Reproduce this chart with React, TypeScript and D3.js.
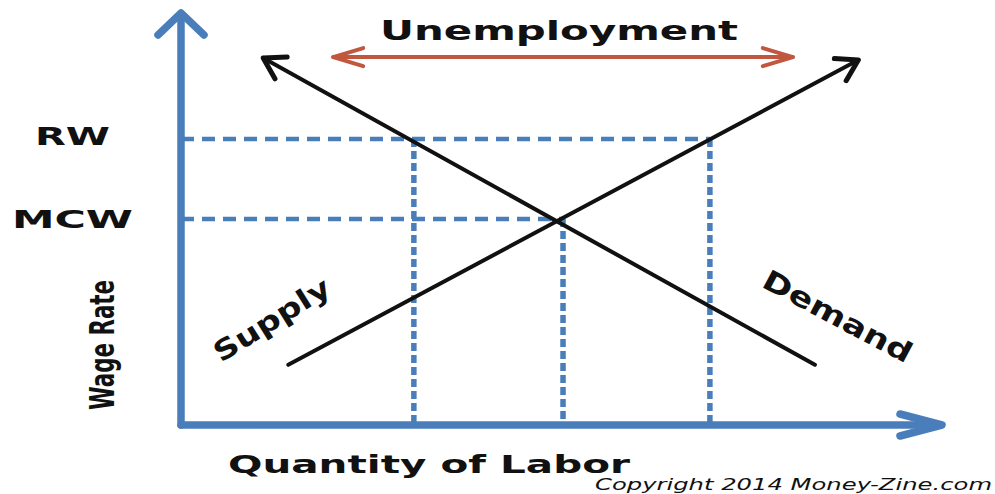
import React from "react";
import * as d3 from "d3";

// ---- Data (abstract units 0-100 on both axes) ----
const wageLabels = ["RW", "MCW"];
const wageValues = [69.4, 50.0];
const quantityValues = [30.6, 50.2, 69.5]; // Q demanded at RW, equilibrium, Q supplied at RW
const demandX = [10.8, 83.3];
const demandY = [89.1, 14.6];
const supplyX = [14.1, 89.0];
const supplyY = [14.6, 88.6];
const unemploymentX = [20.0, 80.4];
const unemploymentY = 89.3;
const axisLabels = { x: "Quantity of Labor", y: "Wage Rate" };
const curveLabels = ["Supply", "Demand"];
const titleText = "Unemployment";
const copyrightText = "Copyright 2014 Money-Zine.com";

const W = 995;
const H = 494;
const BLUE = "#4a7ebb";
const RED = "#c0573e";
const INK = "#111";
const FONT = "'DejaVu Sans', Verdana, sans-serif";

const x = d3.scaleLinear().domain([0, 100]).range([181, 942]);
const y = d3.scaleLinear().domain([0, 100]).range([425, 13]);

function chevron(tx: number, ty: number, fx: number, fy: number, len: number, half: number) {
  // arrow head at (tx,ty), coming from (fx,fy)
  const a = Math.atan2(ty - fy, tx - fx);
  const p1 = [tx - len * Math.cos(a - half), ty - len * Math.sin(a - half)];
  const p2 = [tx - len * Math.cos(a + half), ty - len * Math.sin(a + half)];
  return `M${p1[0]},${p1[1]}L${tx},${ty}L${p2[0]},${p2[1]}`;
}

export default function App() {
  const line = d3.line<[number, number]>();
  const [rw, mcw] = wageValues;
  const [q1, qe, q2] = quantityValues;

  const dStart: [number, number] = [x(demandX[0]), y(demandY[0])];
  const dEnd: [number, number] = [x(demandX[1]), y(demandY[1])];
  const sStart: [number, number] = [x(supplyX[0]), y(supplyY[0])];
  const sEnd: [number, number] = [x(supplyX[1]), y(supplyY[1])];
  const uL: [number, number] = [x(unemploymentX[0]), y(unemploymentY)];
  const uR: [number, number] = [x(unemploymentX[1]), y(unemploymentY)];

  const dashH = "13,8";
  const dashV = "8,4";

  return (
    <svg
      width={W}
      height={H}
      style={{ position: "absolute", left: 0, top: 0, background: "#fff" }}
    >
      {/* dashed guides */}
      <g stroke={BLUE} fill="none">
        <path d={line([[x(0), y(rw)], [x(q2), y(rw)]])!} strokeDasharray={dashH} strokeWidth={4.5} />
        <path d={line([[x(0), y(mcw)], [x(qe), y(mcw)]])!} strokeDasharray={dashH} strokeWidth={4.5} />
        <path d={line([[x(q1), y(rw)], [x(q1), y(0)]])!} strokeDasharray={dashV} strokeWidth={5.5} />
        <path d={line([[x(qe), y(mcw)], [x(qe), y(0)]])!} strokeDasharray={dashV} strokeWidth={5.5} />
        <path d={line([[x(q2), y(rw)], [x(q2), y(0)]])!} strokeDasharray={dashV} strokeWidth={5.5} />
      </g>

      {/* axes */}
      <g stroke={BLUE} strokeWidth={7.5} fill="none" strokeLinecap="round" strokeLinejoin="round">
        <path d={`M${x(0)},${y(0)}L${x(0)},${y(100) + 3}`} />
        <path d={`M${x(0)},${y(0)}L${x(100) - 3},${y(0)}`} />
        <path d={`M${x(0) - 23},${y(100) + 22}L${x(0)},${y(100)}L${x(0) + 23},${y(100) + 22}`} />
        <path d={`M${x(100) - 42},${y(0) - 11}L${x(100)},${y(0)}L${x(100) - 42},${y(0) + 11}`} />
      </g>

      {/* supply & demand */}
      <g stroke={INK} strokeWidth={4} fill="none" strokeLinecap="round" strokeLinejoin="round">
        <path d={line([dStart, dEnd])!} />
        <path d={chevron(dStart[0], dStart[1], dEnd[0], dEnd[1], 24, 0.55)} strokeWidth={5} />
        <path d={line([sStart, sEnd])!} />
        <path d={chevron(sEnd[0], sEnd[1], sStart[0], sStart[1], 24, 0.55)} strokeWidth={5} />
      </g>

      {/* unemployment arrow */}
      <g stroke={RED} strokeWidth={4} fill="none" strokeLinecap="round" strokeLinejoin="round">
        <path d={line([uL, uR])!} />
        <path d={`M${uL[0] + 30},${uL[1] - 9}L${uL[0]},${uL[1]}L${uL[0] + 30},${uL[1] + 9}`} />
        <path d={`M${uR[0] - 30},${uR[1] - 9}L${uR[0]},${uR[1]}L${uR[0] - 30},${uR[1] + 9}`} />
      </g>

      {/* texts */}
      <g fill={INK} fontFamily={FONT} fontWeight="bold">
        <text x={380} y={40} fontSize={27} textLength={358} lengthAdjust="spacingAndGlyphs">
          {titleText}
        </text>
        <text x={35} y={145} fontSize={25} textLength={75} lengthAdjust="spacingAndGlyphs">
          {wageLabels[0]}
        </text>
        <text x={12} y={228} fontSize={25} textLength={121} lengthAdjust="spacingAndGlyphs">
          {wageLabels[1]}
        </text>
        <text
          transform="translate(114,410) rotate(-90)"
          fontSize={33}
          textLength={130}
          lengthAdjust="spacingAndGlyphs"
        >
          {axisLabels.y}
        </text>
        <text x={228} y={473} fontSize={25} textLength={402} lengthAdjust="spacingAndGlyphs">
          {axisLabels.x}
        </text>
        <text
          transform="translate(277,328) rotate(-32)"
          textAnchor="middle"
          fontSize={28}
          textLength={132}
          lengthAdjust="spacingAndGlyphs"
        >
          {curveLabels[0]}
        </text>
        <text
          transform="translate(833,325) rotate(28)"
          textAnchor="middle"
          fontSize={28}
          textLength={165}
          lengthAdjust="spacingAndGlyphs"
        >
          {curveLabels[1]}
        </text>
        <text
          x={595}
          y={490}
          fontSize={16}
          fontStyle="italic"
          fontWeight="normal"
          textLength={397}
          lengthAdjust="spacingAndGlyphs"
        >
          {copyrightText}
        </text>
      </g>
    </svg>
  );
}
